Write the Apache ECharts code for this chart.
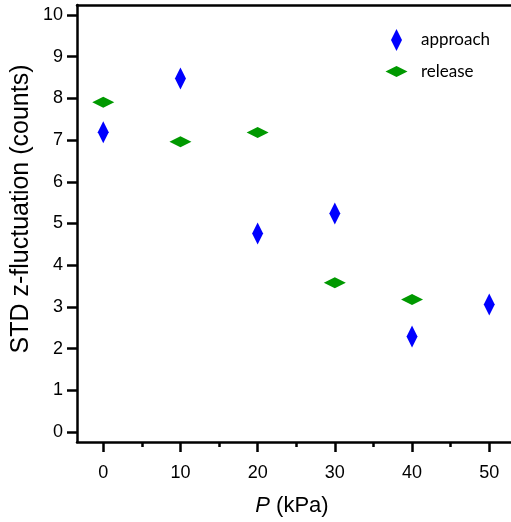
<!DOCTYPE html>
<html>
<head>
<meta charset="utf-8">
<script src="https://cdn.jsdelivr.net/npm/echarts@6/dist/echarts.min.js"></script>
<style>html,body{margin:0;padding:0;background:#fff}#c{width:511px;height:522px}</style>
</head>
<body>
<div id="c"></div>
<script>
const pressures = [0, 10, 20, 30, 40, 50];
const approach = [7.19, 8.48, 4.76, 5.24, 2.29, 3.06];
const releasePressures = [0, 10, 20, 30, 40];
const release = [7.91, 6.96, 7.18, 3.58, 3.18];
const xTicks = [0, 10, 20, 30, 40, 50];
const xMinorTicks = [5, 15, 25, 35, 45];
const yTicks = [0, 1, 2, 3, 4, 5, 6, 7, 8, 9, 10];

const FONT = '"Liberation Sans", Arial, sans-serif';
const LFONT = 'Lato, sans-serif';
const chart = echarts.init(document.getElementById('c'), null, {renderer: 'canvas'});
const XMIN = -3.4, XMAX = 52.82;
chart.setOption({
  animation: false,
  backgroundColor: '#fff',
  grid: {left: 77, top: 5, width: 434, height: 437, outerBoundsMode: 'none', containLabel: false},
  legend: [
    {data: ['approach'], left: 386, top: 24, itemWidth: 11, itemHeight: 22, itemGap: 0,
     textStyle: {fontFamily: LFONT, fontSize: 17, color: '#000', padding: [0, 0, 0, 14]}, icon: 'diamond'},
    {data: ['release'], left: 380.5, top: 58, itemWidth: 22, itemHeight: 11,
     textStyle: {fontFamily: LFONT, fontSize: 17, color: '#000', padding: [0, 0, 0, 8.5]}, icon: 'diamond'}
  ],
  xAxis: [
    {type: 'value', min: XMIN, max: XMAX, position: 'bottom',
     axisLine: {show: true, onZero: false, lineStyle: {color: '#000', width: 2.5}},
     axisTick: {show: true, inside: false, length: 10, customValues: xTicks, lineStyle: {color: '#000', width: 2.5}},
     axisLabel: {customValues: xTicks, margin: 22, fontFamily: FONT, fontSize: 18, color: '#000'},
     splitLine: {show: false}},
    {type: 'value', min: XMIN, max: XMAX, position: 'top',
     axisLine: {show: true, onZero: false, lineStyle: {color: '#000', width: 2.5}},
     axisTick: {show: false}, axisLabel: {show: false}, splitLine: {show: false}},
    {type: 'value', min: XMIN, max: XMAX, position: 'bottom',
     axisLine: {show: false, onZero: false},
     axisTick: {show: true, inside: false, length: 5, customValues: xMinorTicks, lineStyle: {color: '#000', width: 2.5}},
     axisLabel: {show: false}, splitLine: {show: false}}
  ],
  yAxis: [
    {type: 'value', min: -0.24, max: 10.24, position: 'left',
     axisLine: {show: true, onZero: false, lineStyle: {color: '#000', width: 2.5}},
     axisTick: {show: true, inside: false, length: 10, customValues: yTicks, lineStyle: {color: '#000', width: 2.5}},
     axisLabel: {customValues: yTicks, margin: 14, fontFamily: FONT, fontSize: 18, color: '#000'},
     splitLine: {show: false}}
  ],
  graphic: [
    {type: 'text', x: 21, y: 209, rotation: Math.PI / 2,
     style: {text: 'STD z-fluctuation (counts)', fontFamily: FONT, fontSize: 25, fill: '#000',
             align: 'center', verticalAlign: 'middle'}},
    {type: 'text', x: 292, y: 506,
     style: {text: '{i|P} (kPa)', fontFamily: FONT, fontSize: 22, fill: '#000',
             align: 'center', verticalAlign: 'middle',
             rich: {i: {fontStyle: 'italic', fontFamily: FONT, fontSize: 22}}}}
  ],
  series: [
    {name: 'approach', type: 'scatter', xAxisIndex: 0, yAxisIndex: 0, symbol: 'diamond', symbolSize: [11, 22],
     itemStyle: {color: '#0000ff', opacity: 1}, data: pressures.map((p, i) => [p, approach[i]])},
    {name: 'release', type: 'scatter', xAxisIndex: 0, yAxisIndex: 0, symbol: 'diamond', symbolSize: [22, 11],
     itemStyle: {color: '#009900', opacity: 1}, data: releasePressures.map((p, i) => [p, release[i]])}
  ]
});
</script>
</body>
</html>
